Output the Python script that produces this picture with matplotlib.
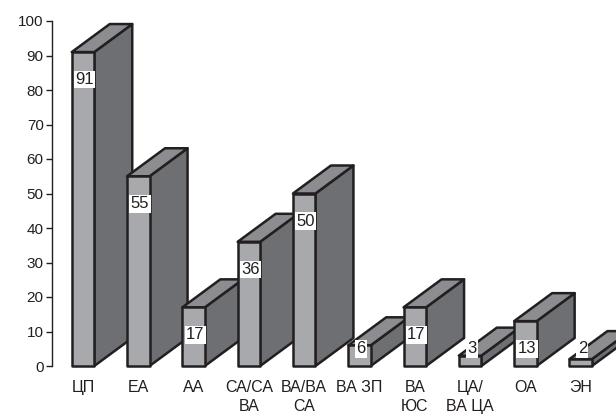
import numpy as np
import matplotlib
matplotlib.use("Agg")
import matplotlib.pyplot as plt
from matplotlib.patches import Polygon

plt.rcParams['font.family'] = ['Liberation Sans', 'DejaVu Sans']

categories = ['ЦП', 'ЕА', 'АА', 'СА/СА\nВА', 'ВА/ВА\nСА', 'ВА ЗП',
              'ВА\nЮС', 'ЦА/\nВА ЦА', 'ОА', 'ЭН']
values = [91, 55, 17, 36, 50, 6, 17, 3, 13, 2]
yticks = [0, 10, 20, 30, 40, 50, 60, 70, 80, 90, 100]

W, H = 616, 416
fig = plt.figure(figsize=(W / 100, H / 100), dpi=100)
# axes in pixels: y axis at x=52, zero at y=366, 100 at y=21
ax = fig.add_axes([52 / W, (H - 366) / H, (W - 52) / W, 345 / H])

step_px = 55.3
xmin = -31 / step_px
ax.set_xlim(xmin, xmin + (W - 52) / step_px)
ax.set_ylim(0, 100)

bw = 22.5 / step_px           # front face width
ddx = 38 / step_px            # depth offset, x
ddy = 28 / 3.45               # depth offset, y

front_c = '#a7a9ac'
side_c = '#6d6f72'
top_c = '#8b8d90'
edge_c = '#231f20'
lw = 1.8

for i, v in enumerate(values):
    x0 = i - bw / 2
    x1 = i + bw / 2
    z = 2 + i * 3
    side = Polygon([(x1, 0), (x1 + ddx, ddy), (x1 + ddx, v + ddy), (x1, v)],
                   closed=True, fc=side_c, ec=edge_c, lw=lw, joinstyle='round',
                   zorder=z, clip_on=False)
    top = Polygon([(x0, v), (x1, v), (x1 + ddx, v + ddy), (x0 + ddx, v + ddy)],
                  closed=True, fc=top_c, ec=edge_c, lw=lw, joinstyle='round',
                  zorder=z, clip_on=False)
    front = Polygon([(x0, 0), (x1, 0), (x1, v), (x0, v)],
                    closed=True, fc=front_c, ec=edge_c, lw=lw, joinstyle='round',
                    zorder=z + 1, clip_on=False)
    ax.add_patch(side)
    ax.add_patch(top)
    ax.add_patch(front)
    ax.text(i + 0.03, max(v - 8, 5), str(v), ha='center', va='center',
            fontsize=12, color=edge_c, zorder=z + 2,
            bbox=dict(fc='white', ec='none', pad=1.0))

ax.set_xticks(range(len(categories)))
ax.set_xticklabels(categories, fontsize=11.5, linespacing=1.35, color=edge_c)
ax.tick_params(axis='x', length=0, pad=10)
ax.set_yticks(yticks)
ax.tick_params(axis='y', length=4, width=1, labelsize=11, pad=2,
               colors=edge_c)

for s in ['top', 'right', 'bottom']:
    ax.spines[s].set_visible(False)
ax.spines['left'].set_linewidth(1)
ax.spines['left'].set_color(edge_c)
ax.patch.set_visible(False)

fig.savefig('out.png', dpi=100)
